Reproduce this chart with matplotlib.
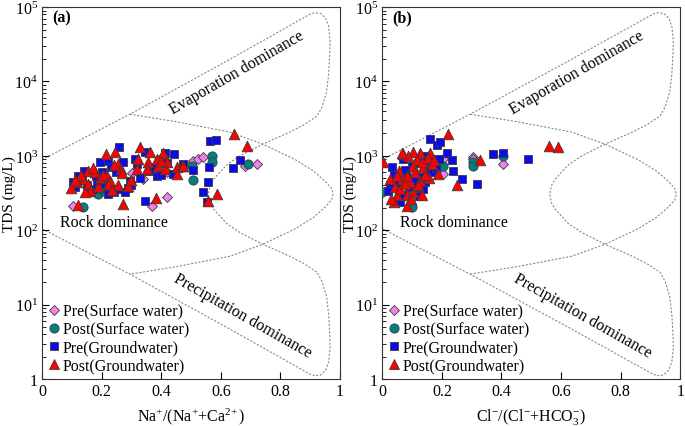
import numpy as np
import matplotlib
matplotlib.use("Agg")
import matplotlib.pyplot as plt
from matplotlib.lines import Line2D

plt.rcParams["font.family"] = ["Liberation Serif", "DejaVu Serif"]
plt.rcParams["mathtext.fontset"] = "custom"
plt.rcParams["mathtext.rm"] = "Liberation Serif"
plt.rcParams["mathtext.it"] = "Liberation Serif:italic"
plt.rcParams["mathtext.bf"] = "Liberation Serif:bold"
plt.rcParams["font.size"] = 11.5

# -----------------------------
# GIBBS BOUNDARY (upper halves, log10 TDS), mirrored about MIRROR
# -----------------------------
MIRROR = 4.97
outer_x = [0.0, 0.295, 0.60, 0.80, 0.90, 0.915, 0.935, 0.952, 0.962, 0.967, 0.966,
           0.962, 0.955, 0.94, 0.923, 0.88, 0.832, 0.742, 0.664, 0.62, 0.597, 0.575,
           0.564, 0.558]
outer_log = [2.95, 3.56, 4.23, 4.68, 4.906, 4.925, 4.915, 4.85, 4.74, 4.55, 4.40,
             4.10, 3.86, 3.66, 3.535, 3.42, 3.32, 3.16, 3.00, 2.88, 2.78, 2.68,
             2.60, 2.485]
inner_x = [0.295, 0.45, 0.63, 0.74, 0.85, 0.91, 0.95, 0.972, 0.977]
inner_log = [3.56, 3.46, 3.32, 3.16, 2.95, 2.80, 2.66, 2.56, 2.485]

# -----------------------------
# PANEL (a) DATA: Na/(Na+Ca) vs TDS
# -----------------------------
a_pre_sw_x = [0.104, 0.302, 0.339, 0.369, 0.419, 0.419, 0.497, 0.507, 0.523, 0.540, 0.681, 0.721]
a_pre_sw_y = [210, 580, 490, 210, 280, 600, 780, 850, 906, 960, 740, 780]

a_post_sw_x = [0.138, 0.188, 0.208, 0.503, 0.507, 0.570, 0.570, 0.691]
a_post_sw_y = [205, 310, 340, 740, 480, 1000, 830, 780]

a_pre_gw_x = [0.259, 0.195, 0.222, 0.272, 0.312, 0.346, 0.413, 0.443, 0.406, 0.386,
              0.440, 0.346, 0.141, 0.104, 0.128, 0.221, 0.289, 0.319, 0.295, 0.252,
              0.185, 0.171, 0.120, 0.150, 0.160, 0.200, 0.230, 0.240, 0.110, 0.135,
              0.180, 0.210, 0.250, 0.280, 0.360, 0.380, 0.420, 0.473, 0.507, 0.564,
              0.584, 0.664, 0.641, 0.560, 0.557, 0.540, 0.553, 0.300, 0.330, 0.400]
a_pre_gw_y = [1330, 820, 860, 840, 900, 1125, 1100, 1060, 910, 530,
              570, 250, 620, 440, 490, 310, 370, 780, 460, 360,
              460, 360, 540, 410, 330, 600, 700, 330, 380, 470,
              540, 420, 600, 330, 620, 700, 800, 780, 640, 1580,
              1620, 880, 690, 700, 440, 330, 240, 400, 500, 560]

a_post_gw_x = [0.215, 0.245, 0.329, 0.362, 0.406, 0.154, 0.178, 0.255, 0.265, 0.218,
               0.195, 0.228, 0.138, 0.117, 0.097, 0.154, 0.161, 0.188, 0.221, 0.255,
               0.289, 0.272, 0.383, 0.322, 0.356, 0.386, 0.389, 0.419, 0.453, 0.470,
               0.413, 0.319, 0.352, 0.453, 0.473, 0.557, 0.587, 0.644, 0.688, 0.120,
               0.130, 0.145, 0.170, 0.205, 0.240, 0.270, 0.110, 0.235, 0.300, 0.400]
a_post_gw_y = [1060, 1125, 1330, 1125, 1080, 620, 600, 780, 665, 530,
               510, 460, 490, 440, 370, 418, 340, 380, 418, 400,
               390, 225, 270, 900, 820, 906, 720, 820, 710, 740,
               665, 665, 665, 570, 740, 250, 310, 1960, 1370, 220,
               560, 330, 680, 560, 760, 580, 470, 350, 480, 860]

# -----------------------------
# PANEL (b) DATA: Cl/(Cl+HCO3) vs TDS
# -----------------------------
b_pre_sw_x = [0.10, 0.10, 0.205, 0.205, 0.305, 0.305, 0.406]
b_pre_sw_y = [600, 270, 906, 570, 980, 920, 780]

b_post_sw_x = [0.205, 0.10, 0.10, 0.10, 0.305, 0.305, 0.406, 0.0]
b_post_sw_y = [735, 485, 340, 205, 830, 740, 1000, 330]

b_pre_gw_x = [0.161, 0.184, 0.195, 0.218, 0.235, 0.238, 0.268, 0.319, 0.372, 0.406,
              0.490, 0.034, 0.070, 0.138, 0.060, 0.027, 0.050, 0.080, 0.120, 0.140,
              0.150, 0.090, 0.110, 0.170, 0.130, 0.160, 0.065, 0.040, 0.100, 0.180,
              0.115, 0.020, 0.075, 0.145, 0.190, 0.125]
b_pre_gw_y = [1680, 1420, 1560, 1100, 880, 630, 490, 420, 1060, 1100,
              900, 700, 910, 360, 240, 400, 430, 560, 800, 1000,
              640, 380, 460, 600, 520, 850, 300, 560, 720, 680,
              380, 340, 650, 450, 900, 290]

b_post_gw_x = [0.221, 0.161, 0.128, 0.104, 0.070, 0.087, 0.003, 0.057, 0.138, 0.117,
               0.134, 0.168, 0.188, 0.158, 0.128, 0.094, 0.067, 0.044, 0.050, 0.040,
               0.084, 0.134, 0.084, 0.060, 0.104, 0.027, 0.084, 0.252, 0.329, 0.560,
               0.591, 0.104, 0.154, 0.050, 0.075, 0.110, 0.145, 0.030, 0.120, 0.175,
               0.065, 0.095]
b_post_gw_y = [1960, 1110, 1080, 1120, 1060, 1000, 820, 630, 700, 870,
               820, 780, 570, 510, 460, 440, 490, 380, 300, 240,
               215, 300, 300, 360, 330, 490, 530, 400, 870, 1370,
               1330, 720, 950, 530, 420, 600, 560, 260, 400, 880,
               1100, 260]

# -----------------------------
# STYLES
# -----------------------------
line_kw = dict(color="#808080", lw=0.75, ls=(0, (2.0, 1.6)), zorder=1)
edge = "#3a3a3a"
series_style = [
    ("Pre(Surface water)", "D", "#EE82EE", 26),
    ("Post(Surface water)", "o", "#008080", 44),
    ("Pre(Groundwater)", "s", "#0A0AEE", 38),
    ("Post(Groundwater)", "^", "#FF0000", 58),
]


def draw_panel(ax, sets, xlabel, tag, stretch=1.0):
    # right part of the envelope is a touch wider in panel (b)
    ox = np.array(outer_x)
    ox = np.where(ox > 0.3, 0.3 + (ox - 0.3) * stretch, ox)
    ol = np.array(outer_log)
    full_ox = np.concatenate([ox, ox[::-1][1:]])
    full_ol = np.concatenate([ol, (MIRROR - ol)[::-1][1:]])
    ix = np.array(inner_x)
    ix = np.where(ix > 0.3, 0.3 + (ix - 0.3) * stretch, ix)
    il = np.array(inner_log)
    full_ix = np.concatenate([ix, ix[::-1][1:]])
    full_il = np.concatenate([il, (MIRROR - il)[::-1][1:]])
    ax.plot(full_ox, 10 ** full_ol, **line_kw)
    ax.plot(full_ix, 10 ** full_il, **line_kw)

    # draw order: GW squares, GW triangles, SW diamonds, SW circles
    for idx in [2, 3, 0, 1]:
        label, mk, col, s = series_style[idx]
        xs, ys = sets[idx]
        ax.scatter(xs, ys, marker=mk, s=s, c=col, edgecolors=edge,
                   linewidths=0.6, zorder=3 + idx * 0.1)

    ax.set_yscale("log")
    ax.set_xlim(0, 1)
    ax.set_ylim(1, 1e5)
    ax.set_yticks([1, 10, 100, 1e3, 1e4, 1e5])
    ax.set_yticklabels(["1", r"$10^{1}$", r"$10^{2}$", r"$10^{3}$", r"$10^{4}$", r"$10^{5}$"])
    ax.set_xticks([0, 0.2, 0.4, 0.6, 0.8, 1.0])
    ax.set_xticklabels(["0", "0.2", "0.4", "0.6", "0.8", "1"])
    ax.tick_params(which="major", direction="in", length=5, width=0.8,
                   top=False, right=False, labelsize=11.5, pad=3)
    ax.tick_params(which="minor", direction="in", length=3, width=0.6,
                   top=False, right=False)
    ax.tick_params(axis="x", which="minor", bottom=False)
    for sp in ax.spines.values():
        sp.set_color("#333333")
        sp.set_linewidth(0.8)

    ax.set_xlabel(xlabel, fontsize=11.5)
    ax.xaxis.set_label_coords(0.5, -0.072)
    ax.set_ylabel("TDS (mg/L)", fontsize=11)
    ax.yaxis.set_label_coords(-0.086, 0.5)

    ax.text(0.654, 10 ** 4.12, "Evaporation dominance", rotation=30,
            ha="center", va="center", rotation_mode="anchor", fontsize=11.5)
    ax.text(0.672, 10 ** 0.85, "Precipitation dominance", rotation=-29.5,
            ha="center", va="center", rotation_mode="anchor", fontsize=11.5)
    ax.text(0.24, 10 ** 2.11, "Rock dominance", ha="center", va="center", fontsize=11.5)
    ax.text(0.035, 10 ** 4.86, tag, fontweight="bold", ha="left", va="center", fontsize=11.5)

    handles = []
    for label, mk, col, s in series_style:
        handles.append(Line2D([], [], ls="", marker=mk, markersize=np.sqrt(s),
                              markerfacecolor=col, markeredgecolor=edge,
                              markeredgewidth=0.6, label=label))
    ax.legend(handles=handles, loc="lower left", frameon=False, fontsize=11.5,
              handlelength=0.8, handletextpad=0.15, labelspacing=0.12,
              borderaxespad=0.15, borderpad=0.2)


fig = plt.figure(figsize=(6.85, 4.27), dpi=100)
ax1 = fig.add_axes([0.0613, 0.110, 0.435, 0.871])
ax2 = fig.add_axes([0.558, 0.110, 0.435, 0.871])

draw_panel(ax1,
           [(a_pre_sw_x, a_pre_sw_y), (a_post_sw_x, a_post_sw_y),
            (a_pre_gw_x, a_pre_gw_y), (a_post_gw_x, a_post_gw_y)],
           r"Na$^{+}$/(Na$^{+}$+Ca$^{2\!+}$)", "(a)")
draw_panel(ax2,
           [(b_pre_sw_x, b_pre_sw_y), (b_post_sw_x, b_post_sw_y),
            (b_pre_gw_x, b_pre_gw_y), (b_post_gw_x, b_post_gw_y)],
           r"Cl$^{-}$/(Cl$^{-}$+HCO$_{3}^{-}$)", "(b)", stretch=1.015)

fig.savefig("out.png", dpi=100)
